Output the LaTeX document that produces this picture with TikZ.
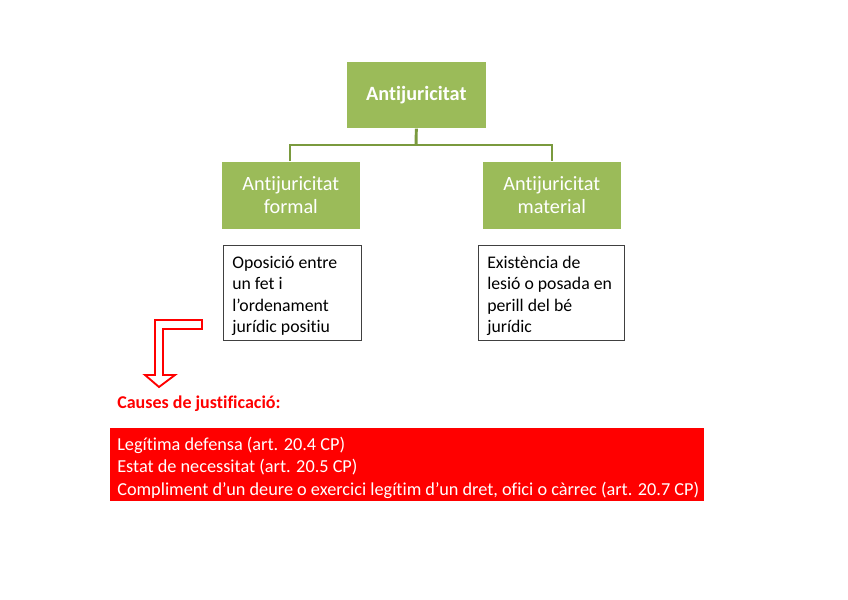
\documentclass[tikz,border=0pt]{standalone}
\usepackage{fontspec}
\setmainfont{Carlito}[Ligatures=NoCommon]
\definecolor{grn}{HTML}{9BBB59}
\definecolor{grnline}{HTML}{7A9A3E}
\definecolor{rd}{HTML}{FF0000}
\begin{document}
\begin{tikzpicture}[x=0.75pt,y=-0.75pt,
  gbox/.style={fill=grn,draw=white,line width=0.5pt,text=white,align=center,anchor=north west,inner sep=0pt},
  tbox/.style={draw=black!75,line width=0.8pt,anchor=north west,inner sep=0pt},
  conn/.style={draw=grnline,line width=2.2pt},
]
\useasboundingbox (0,0) rectangle (848,599);
% top green box
\node[gbox,minimum width=105pt,minimum height=50.25pt,font=\fontsize{15.2}{18}\selectfont\bfseries] (top) at (346,61) {Antijuricitat};
\node[gbox,minimum width=104.25pt,minimum height=51pt,font=\fontsize{15.2}{17.5}\selectfont] (lf) at (221,161) {Antijuricitat\\formal};
\node[gbox,minimum width=104.25pt,minimum height=51pt,font=\fontsize{15.2}{17.5}\selectfont] (rm) at (482,161) {Antijuricitat\\material};
% connectors
\coordinate (jt) at (416,145);
\draw[conn] (top.south) -- (jt);
\draw[conn] (lf.north -| 290,0) |- (jt) -| (rm.north -| 552,0);
% text boxes
\node[tbox,minimum width=103.5pt,minimum height=71.25pt] (lt) at (223,245) {};
\node[anchor=north west,align=left,inner sep=0pt,font=\fontsize{13.3}{16}\selectfont] (ltt) at (232,256) {Oposició entre\\un fet i\\l’ordenament\\jurídic positiu};
\node[tbox,minimum width=109.5pt,minimum height=71.25pt] (rt) at (478,245) {};
\node[anchor=north west,align=left,inner sep=0pt,font=\fontsize{13.3}{16}\selectfont] (rtt) at (487,256) {Existència de\\lesió o posada en\\perill del bé\\jurídic};
% arrow
\draw[draw=rd,fill=white,line width=1.4pt,line join=miter]
  (155,320) -- (202,320) -- (202,329) -- (163,329) -- (163,375) -- (175,375) -- (159,387) -- (145,375) -- (155,375) -- cycle;
\node[anchor=west,inner sep=0pt,text=rd,font=\fontsize{13.5}{15}\selectfont\bfseries] (cj) at (117,404) {Causes de justificació:};
% red box
\node[fill=rd,anchor=north west,inner sep=0pt,minimum width=445.5pt,minimum height=54.75pt] (rb) at (110,428) {};
\node[anchor=north west,align=left,inner sep=0pt,text=white,font=\fontsize{13.7}{16.9}\selectfont] (rbt) at (117,436.5) {Legítima defensa (art. 20.4 CP)\\Estat de necessitat (art. 20.5 CP)\\Compliment d’un deure o exercici legítim d’un dret, ofici o càrrec (art. 20.7 CP)};
\end{tikzpicture}
\end{document}
